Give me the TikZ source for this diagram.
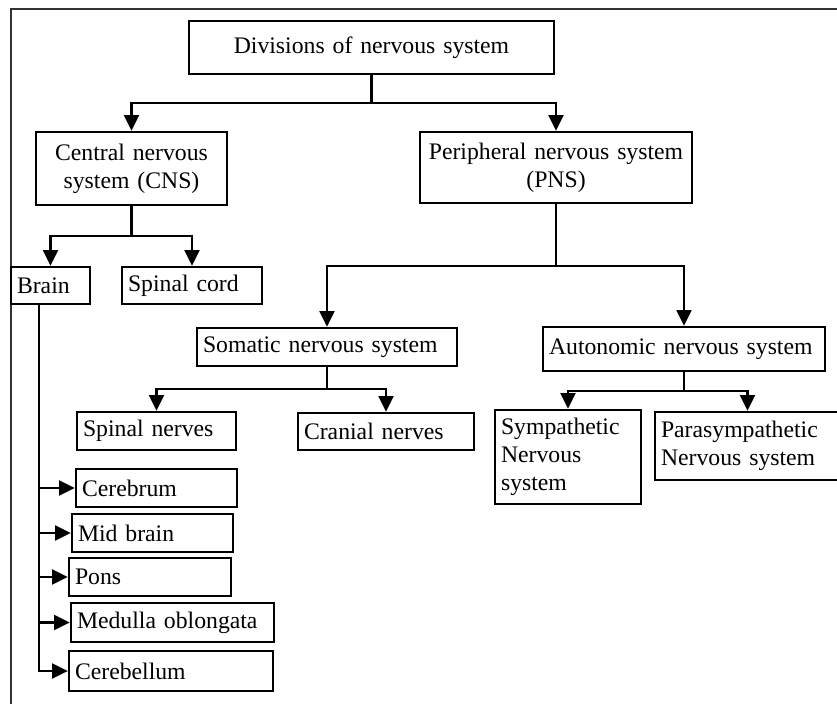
\documentclass[tikz,border=0pt]{standalone}
\usepackage{fontspec}
\setmainfont{Liberation Serif}
\usetikzlibrary{arrows.meta}

\begin{document}
\begin{tikzpicture}[x=0.02cm,y=-0.02cm,line width=1.35pt,
                    font=\fontsize{13.5}{16}\selectfont]
  \tikzstyle{box}=[draw,inner ysep=0pt,inner xsep=0.12cm,align=left]
  \tikzstyle{arr}=[-{Triangle[length=9pt,width=8.5pt]}]

	\useasboundingbox (0,0) rectangle (837,704);
	\draw[line width=0.7pt,black!80] (11,704) -- (11,9) -- (837,9);

	\node[box, align=center, text width=7.06cm, minimum height=1.06cm]	(div)	at (371.5,47.5)	{Divisions of nervous system};
	\node[box, align=center, text width=3.58cm, minimum height=1.46cm]	(cns)	at (131.5,168.5)	{Central nervous\\system (CNS)};
	\node[box, align=center, text width=5.20cm, minimum height=1.42cm]	(pns)	at (556,167.5)	{Peripheral nervous system\\(PNS)};
	\node[box, text width=1.34cm, minimum height=0.74cm]	(brain)	at (50.5,285.5)	{Brain};
	\node[box, text width=2.56cm, minimum height=0.74cm]	(cord)	at (192,285.5)	{Spinal cord};
	\node[box, text width=4.96cm, minimum height=0.76cm]	(som)	at (327,347)	{Somatic nervous system};
	\node[box, text width=5.40cm, minimum height=0.88cm]	(aut)	at (684,349)	{Autonomic nervous system};
	\node[box, text width=2.94cm, minimum height=0.76cm]	(spn)	at (156.5,431)	{Spinal nerves};
	\node[box, text width=3.28cm, minimum height=0.74cm]	(crn)	at (386,431.5)	{Cranial nerves};
	\node[box, text width=2.68cm, minimum height=1.88cm]	(sym)	at (568,457)	{Sympathetic\\Nervous\\system};
	\node[box, text width=3.46cm, minimum height=1.36cm]	(par)	at (747.5,446)	{Parasympathetic\\Nervous system};
	\node[box, text width=2.98cm, minimum height=0.76cm]	(cbr)	at (156.5,488)	{Cerebrum};
	\node[box, text width=2.98cm, minimum height=0.76cm]	(mid)	at (152.5,533)	{Mid brain};
	\node[box, text width=3.00cm, minimum height=0.76cm]	(pons)	at (150,577)	{Pons};
	\node[box, text width=3.82cm, minimum height=0.78cm]	(med)	at (172.5,622.5)	{Medulla oblongata};
	\node[box, text width=3.84cm, minimum height=0.80cm]	(cbl)	at (171,671)	{Cerebellum};

	% bus points
	\coordinate (b0) at (371.5,103);
	\coordinate (b1) at (131.5,236);
	\coordinate (b2) at (556,266);
	\coordinate (b3) at (327,389);
	\coordinate (b4) at (684,391);
	\coordinate (trunk) at (39,304);

	\draw (div) -- (b0);
	\draw[arr] (b0) -| (cns);
	\draw[arr] (b0) -| (pns);
	\draw (cns) -- (b1);
	\draw[arr] (b1) -| (brain);
	\draw[arr] (b1) -| (cord);
	\draw (pns) -- (b2);
	\draw[arr] (b2) -| (som);
	\draw[arr] (b2) -| (aut);
	\draw (som) -- (b3);
	\draw[arr] (b3) -| (spn);
	\draw[arr] (b3) -| (crn);
	\draw (aut) -- (b4);
	\draw[arr] (b4) -| (sym);
	\draw[arr] (b4) -| (par);

	\foreach \n in {cbr,mid,pons,med,cbl}
		\draw[arr] (trunk) |- (\n.west);

\end{tikzpicture}
\end{document}
